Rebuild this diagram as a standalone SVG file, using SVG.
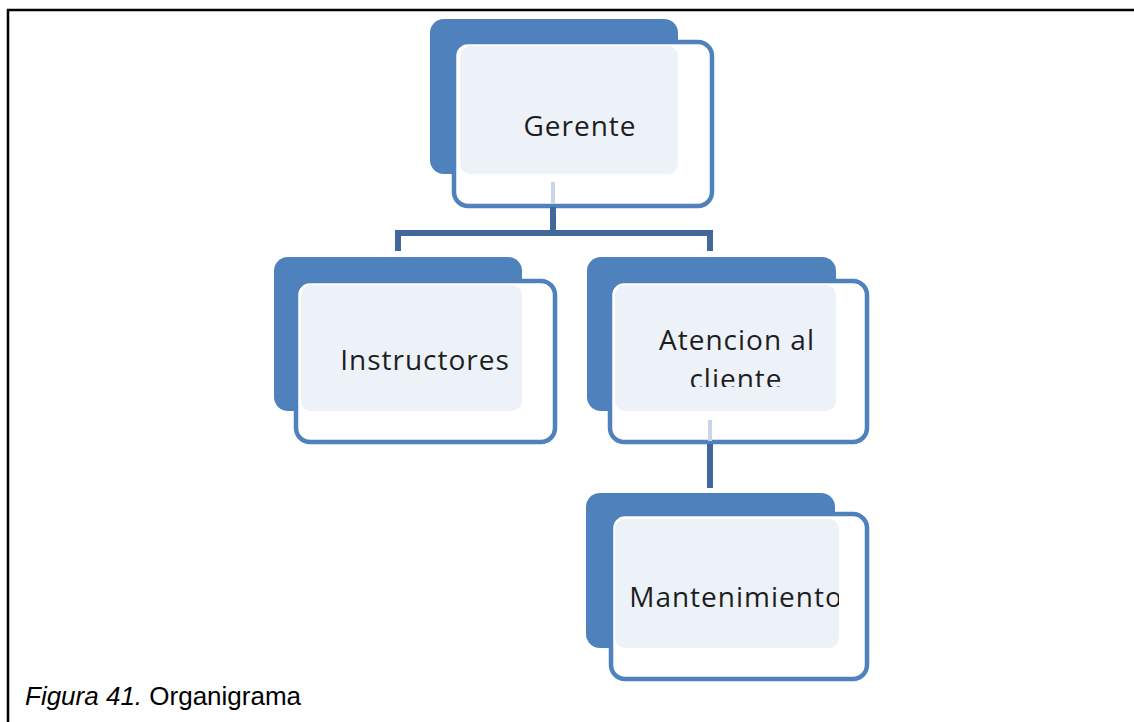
<svg xmlns="http://www.w3.org/2000/svg" width="1134" height="722" viewBox="0 0 1134 722">
  <style>
    .back { fill: #4F81BD; }
    .front { fill: #FFFFFF; stroke: #4F81BD; stroke-width: 4.5; }
    .tint { fill: #EDF2F9; }
    .label { font-family: "Open Sans", "Noto Sans", sans-serif; font-size: 28px; letter-spacing: 1px; fill: #1E1E1E; text-anchor: middle; }
    .link { fill: none; stroke: #41679B; stroke-width: 6; }
    .stub { stroke: #C9D6E8; stroke-width: 4; }
    .caption { font-family: "Liberation Sans", Arial, sans-serif; font-size: 26px; fill: #000; }
  </style>
  <defs>
    <clipPath id="clipAtencion"><rect x="615" y="285" width="221" height="102"/></clipPath>
    <clipPath id="clipMant"><rect x="615" y="519" width="224" height="129"/></clipPath>
  </defs>

  <rect width="1134" height="722" fill="#FFFFFF"/>
  <!-- frame -->
  <path d="M8 722 V10 H1134" fill="none" stroke="#000" stroke-width="2.5"/>

  <g id="node-gerente">
    <rect class="back" x="430" y="19" width="248" height="155" rx="14"/>
    <rect class="front" x="454" y="42" width="258" height="164" rx="14"/>
    <rect class="tint" x="460" y="46" width="218" height="128" rx="10"/>
    <text class="label" x="580" y="136">Gerente</text>
  </g>

  <g id="node-instructores">
    <rect class="back" x="274" y="257" width="248" height="154" rx="14"/>
    <rect class="front" x="296" y="281" width="259" height="161" rx="14"/>
    <rect class="tint" x="301" y="285" width="221" height="126" rx="10"/>
    <text class="label" x="425" y="370">Instructores</text>
  </g>

  <g id="node-atencion">
    <rect class="back" x="587" y="257" width="249" height="154" rx="14"/>
    <rect class="front" x="610" y="281" width="257" height="161" rx="14"/>
    <rect class="tint" x="615" y="285" width="221" height="126" rx="10"/>
    <text class="label" x="737" y="350">Atencion al</text>
    <text class="label" x="736" y="389" clip-path="url(#clipAtencion)">cliente</text>
  </g>

  <g id="node-mantenimiento">
    <rect class="back" x="586" y="493" width="249" height="155" rx="14"/>
    <rect class="front" x="611" y="514" width="256" height="165" rx="14"/>
    <rect class="tint" x="615" y="519" width="224" height="129" rx="10"/>
    <text class="label" x="736" y="607" clip-path="url(#clipMant)">Mantenimiento</text>
  </g>

  <!-- connectors -->
  <g id="connectors">
    <line class="stub" x1="553" y1="182" x2="553" y2="204"/>
    <path class="link" d="M553 207 V233 M398 251 V233 H710 V251"/>
    <line class="stub" x1="710" y1="420" x2="710" y2="441"/>
    <path class="link" d="M710 444 V488"/>
  </g>

  <text class="caption" x="25" y="705"><tspan font-style="italic">Figura 41.</tspan> Organigrama</text>
</svg>
